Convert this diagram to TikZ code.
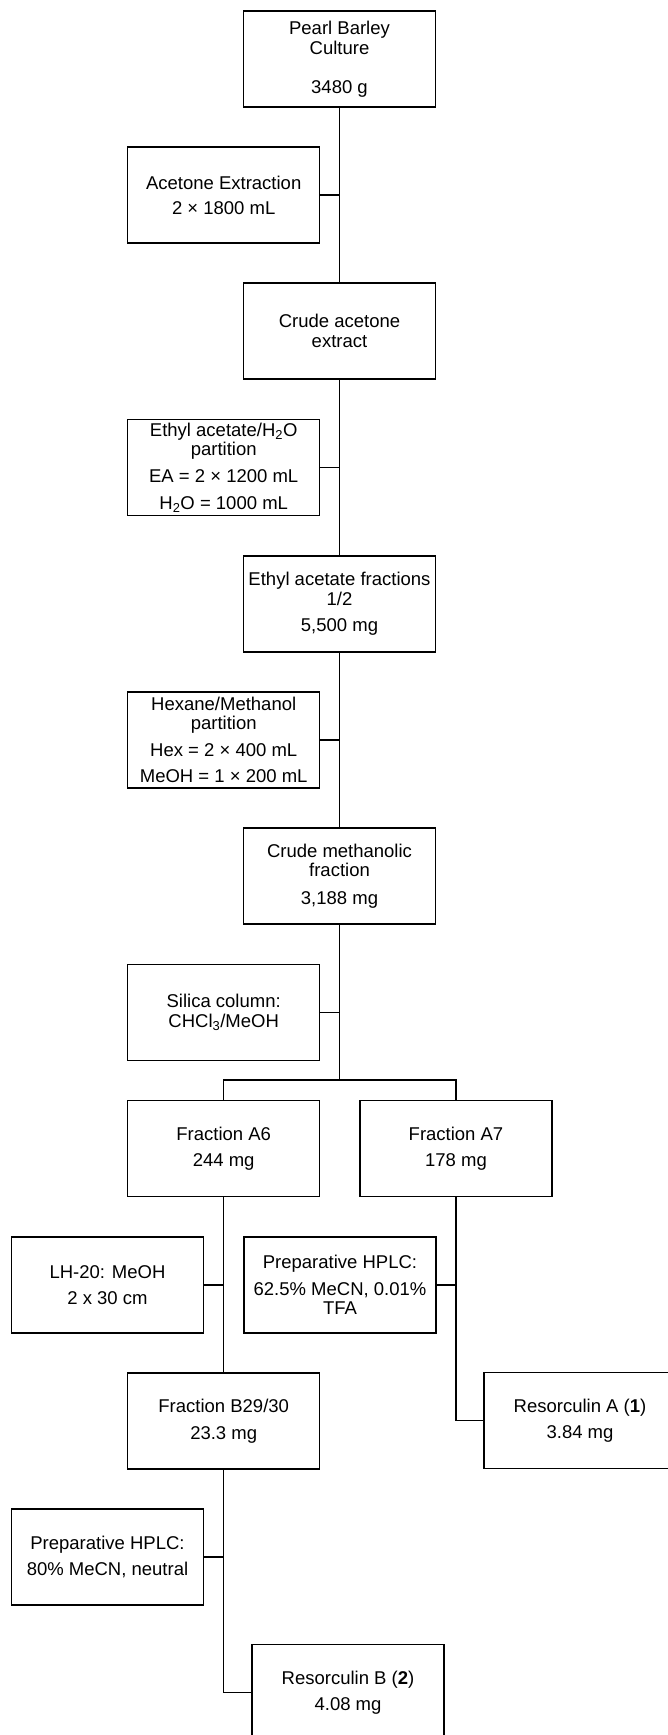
\documentclass[tikz,border=0pt]{standalone}
\usepackage{fontspec}
\setmainfont{Liberation Sans}
\newcommand\boxfont{\fontsize{18.5}{19.5}\selectfont}
\tikzset{
  bx/.style={draw, line width=1.4pt, minimum width=192pt, minimum height=96pt,
    inner sep=0pt, outer sep=0pt, align=center, font=\boxfont},
  ln/.style={line width=1.4pt, line join=miter}
}
\begin{document}
\begin{tikzpicture}[x=1pt, y=-1pt]
\useasboundingbox (0,0) rectangle (668,1735);
\clip (0,0) rectangle (668,1735);
% main column
\node[bx] (culture) at (339.5,59) {Pearl Barley\\Culture\\[19.5pt]3480 g};
\node[bx] (acet) at (223.7,195) {Acetone Extraction\\[5.5pt]2 × 1800 mL};
\node[bx] (crude) at (339.5,331) {Crude acetone\\extract};
\node[bx] (eah2o) at (223.7,467.5) {Ethyl acetate/H\textsubscript{2}O\\partition\\[7.5pt]EA = 2 × 1200 mL\\[7pt]H\textsubscript{2}O = 1000 mL};
\node[bx] (eaf) at (339.5,604) {Ethyl acetate fractions\\1/2\\[7pt]5,500 mg};
\node[bx] (hex) at (223.7,740) {Hexane/Methanol\\partition\\[7pt]Hex = 2 × 400 mL\\[7pt]MeOH = 1 × 200 mL};
\node[bx] (cmf) at (339.5,876) {Crude methanolic\\fraction\\[8pt]3,188 mg};
\node[bx] (sil) at (223.7,1012.3) {Silica column:\\CHCl\textsubscript{3}/MeOH};
\node[bx] (a6) at (223.7,1148.5) {Fraction A6\\[7pt]244 mg};
\node[bx] (a7) at (456,1148.5) {Fraction A7\\[7pt]178 mg};
\node[bx] (lh) at (107.5,1285) {LH-20: MeOH\\[7pt]2 x 30 cm};
\node[bx] (hplc1) at (340,1285) {Preparative HPLC:\\[7pt]62.5\% MeCN, 0.01\%\\TFA};
\node[bx] (b29) at (223.7,1421) {Fraction B29/30\\[7.5pt]23.3 mg};
\node[bx] (resA) at (580,1420.5) {Resorculin A (\textbf{1})\\[7pt]3.84 mg};
\node[bx] (hplc2) at (107.5,1557) {Preparative HPLC:\\[7pt]80\% MeCN, neutral};
\node[bx] (resB) at (348,1692.5) {Resorculin B (\textbf{2})\\[7pt]4.08 mg};
% connectors
\draw[ln] (culture.south) -- (crude.north);
\draw[ln] (acet.east) -- (acet.east -| culture.south);
\draw[ln] (crude.south) -- (eaf.north);
\draw[ln] (eah2o.east) -- (eah2o.east -| crude.south);
\draw[ln] (eaf.south) -- (cmf.north);
\draw[ln] (hex.east) -- (hex.east -| eaf.south);
\coordinate (br) at (339.5,1080);
\coordinate (bl) at (223.7,1080);
\coordinate (brr) at (456,1080);
\draw[ln] (cmf.south) -- (br);
\draw[ln] (sil.east) -- (sil.east -| cmf.south);
\draw[ln] (a6.north) -- (bl) -- (brr) -- (a7.north);
\draw[ln] (a6.south) -- (b29.north);
\draw[ln] (lh.east) -- (lh.east -| a6.south);
\draw[ln] (a7.south) |- (resA.west);
\draw[ln] (hplc1.east) -- (hplc1.east -| a7.south);
\draw[ln] (b29.south) |- (resB.west);
\draw[ln] (hplc2.east) -- (hplc2.east -| b29.south);
\end{tikzpicture}
\end{document}
